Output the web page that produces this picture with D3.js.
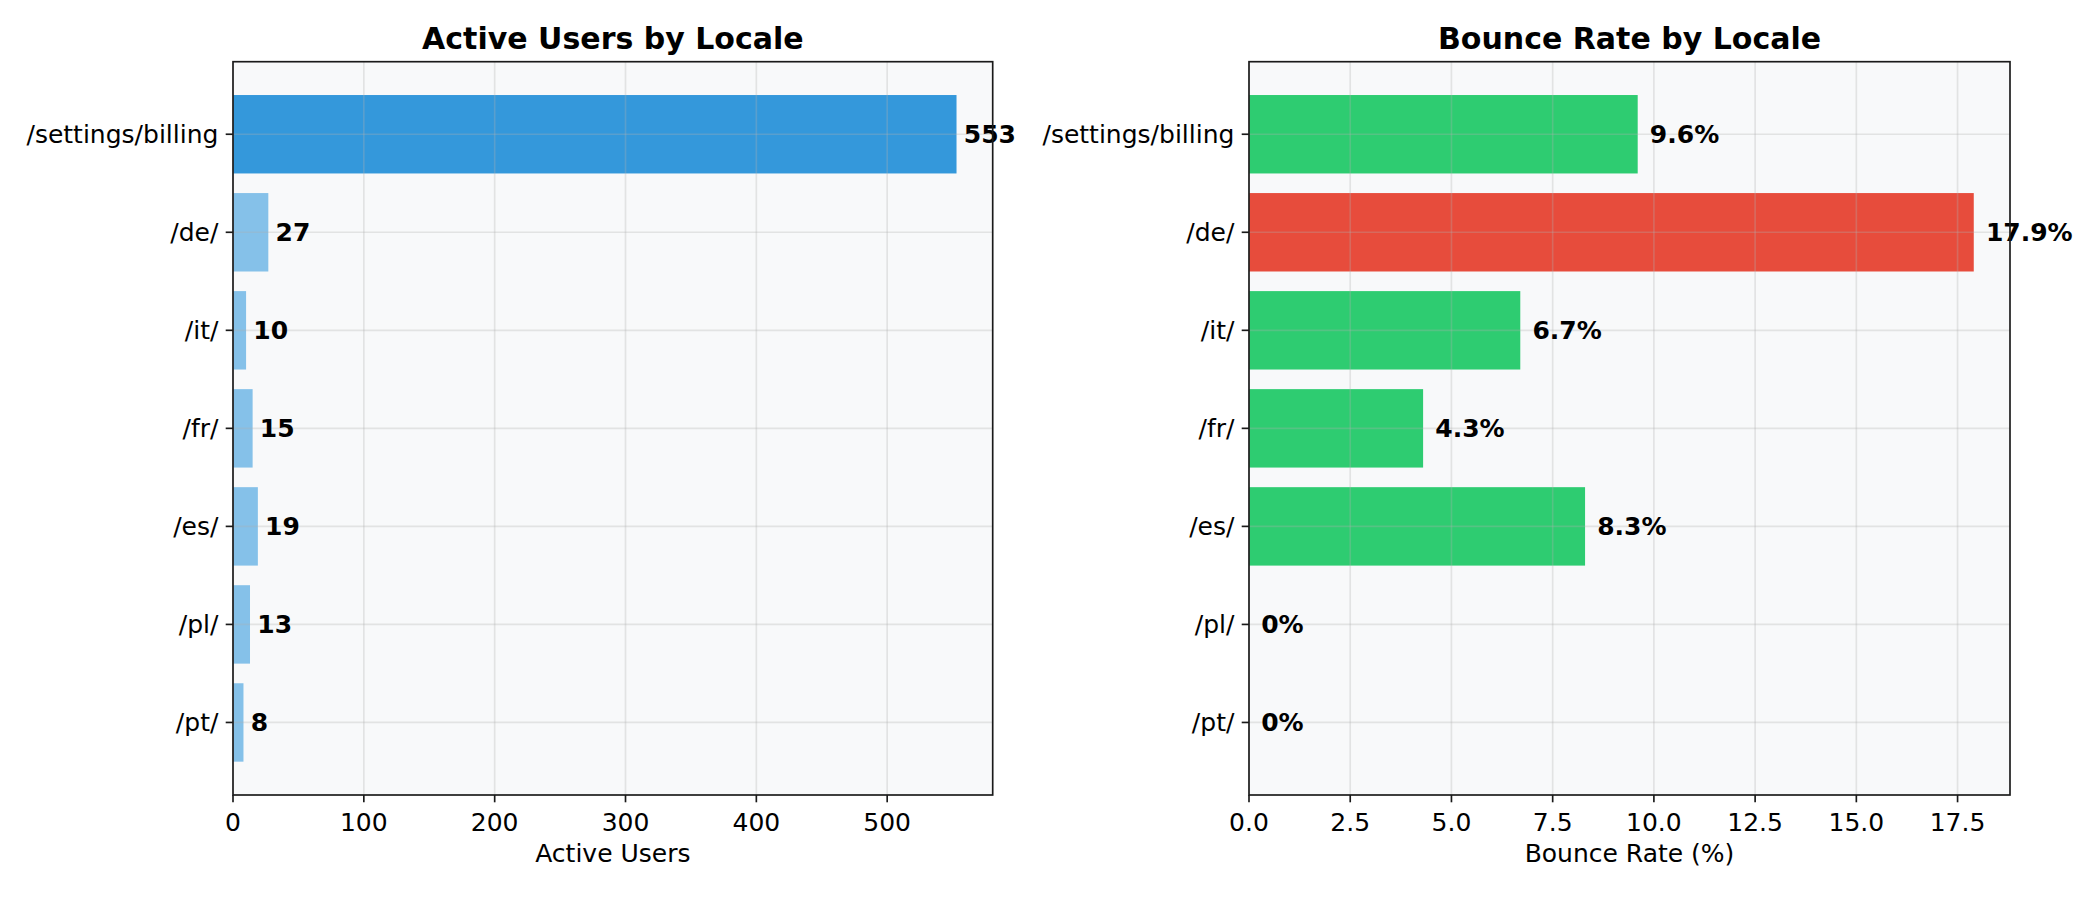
<!DOCTYPE html>
<html>
<head>
<meta charset="utf-8">
<script src="https://cdn.jsdelivr.net/npm/d3@7"></script>
<style>
  html, body { margin: 0; padding: 0; background: #ffffff; }
  svg { display: block; font-family: "DejaVu Sans", sans-serif; }
</style>
</head>
<body>
<svg id="chart" width="2100" height="900"></svg>
<script>
// ---- Data ----
const categories = ["/settings/billing", "/de/", "/it/", "/fr/", "/es/", "/pl/", "/pt/"];
const activeUsers = [553, 27, 10, 15, 19, 13, 8];
const bounceRate = [9.6, 17.9, 6.7, 4.3, 8.3, 0, 0];
const usersTicks = [0, 100, 200, 300, 400, 500];
const bounceTicks = [0, 2.5, 5, 7.5, 10, 12.5, 15, 17.5];
const bounceTickLabels = ["0.0", "2.5", "5.0", "7.5", "10.0", "12.5", "15.0", "17.5"];

// ---- Layout ----
(function () {
const svg = d3.select("#chart");
const plotTop = 61.7, plotBottom = 795;
const panels = [
  {
    left: 233, right: 992.7,
    title: "Active Users by Locale", xlabel: "Active Users",
    values: activeUsers, ticks: usersTicks, tickLabels: usersTicks.map(String),
    color: (v, i) => i === 0 ? "#3498db" : "#85c1e9",
    fmt: v => String(v),
    offset: d3.max(activeUsers) * 0.01
  },
  {
    left: 1249, right: 2010,
    title: "Bounce Rate by Locale", xlabel: "Bounce Rate (%)",
    values: bounceRate, ticks: bounceTicks, tickLabels: bounceTickLabels,
    color: (v, i) => v > 15 ? "#e74c3c" : "#2ecc71",
    fmt: v => v === 0 ? "0%" : v.toFixed(1) + "%",
    offset: 0.3
  }
];

const tickLen = 7.3, tickPad = 7.3, lw = 1.67;

panels.forEach(p => {
  const g = svg.append("g");
  const x = d3.scaleLinear().domain([0, d3.max(p.values) * 1.05]).range([p.left, p.right]);
  const y = d3.scaleBand().domain(categories).range([plotTop, plotBottom]).paddingInner(0.2).paddingOuter(0.34);

  // background
  g.append("rect").attr("x", p.left).attr("y", plotTop)
    .attr("width", p.right - p.left).attr("height", plotBottom - plotTop)
    .attr("fill", "#f8f9fa");

  // bars
  g.selectAll("rect.bar").data(p.values).enter().append("rect")
    .attr("class", "bar")
    .attr("x", x(0))
    .attr("y", (d, i) => y(categories[i]))
    .attr("width", d => x(d) - x(0))
    .attr("height", y.bandwidth())
    .attr("fill", (d, i) => p.color(d, i));

  // grid (above bars, like matplotlib)
  g.selectAll("line.vgrid").data(p.ticks).enter().append("line")
    .attr("x1", d => x(d)).attr("x2", d => x(d))
    .attr("y1", plotTop).attr("y2", plotBottom)
    .attr("stroke", "#b0b0b0").attr("stroke-opacity", 0.3).attr("stroke-width", lw);
  g.selectAll("line.hgrid").data(categories).enter().append("line")
    .attr("x1", p.left).attr("x2", p.right)
    .attr("y1", d => y(d) + y.bandwidth() / 2).attr("y2", d => y(d) + y.bandwidth() / 2)
    .attr("stroke", "#b0b0b0").attr("stroke-opacity", 0.3).attr("stroke-width", lw);

  // value labels
  g.selectAll("text.val").data(p.values).enter().append("text")
    .attr("x", d => x(d + p.offset))
    .attr("y", (d, i) => y(categories[i]) + y.bandwidth() / 2)
    .attr("dy", "0.36em")
    .attr("font-size", 25).attr("font-weight", "bold").attr("fill", "#000")
    .text(d => p.fmt(d));

  // spines
  g.append("rect").attr("x", p.left).attr("y", plotTop)
    .attr("width", p.right - p.left).attr("height", plotBottom - plotTop)
    .attr("fill", "none").attr("stroke", "#1a1a1a").attr("stroke-width", lw);

  // x axis ticks
  g.selectAll("line.xt").data(p.ticks).enter().append("line")
    .attr("x1", d => x(d)).attr("x2", d => x(d))
    .attr("y1", plotBottom).attr("y2", plotBottom + tickLen)
    .attr("stroke", "#1a1a1a").attr("stroke-width", lw);
  g.selectAll("text.xt").data(p.ticks).enter().append("text")
    .attr("x", d => x(d)).attr("y", 831)
    .attr("text-anchor", "middle").attr("font-size", 25).attr("fill", "#000")
    .text((d, i) => p.tickLabels[i]);

  // y axis ticks
  g.selectAll("line.yt").data(categories).enter().append("line")
    .attr("x1", p.left - tickLen).attr("x2", p.left)
    .attr("y1", d => y(d) + y.bandwidth() / 2).attr("y2", d => y(d) + y.bandwidth() / 2)
    .attr("stroke", "#1a1a1a").attr("stroke-width", lw);
  g.selectAll("text.yt").data(categories).enter().append("text")
    .attr("x", p.left - tickLen - tickPad)
    .attr("y", d => y(d) + y.bandwidth() / 2)
    .attr("dy", "0.36em")
    .attr("text-anchor", "end").attr("font-size", 25).attr("fill", "#000")
    .text(d => d);

  // axis label
  g.append("text").attr("x", (p.left + p.right) / 2).attr("y", 862)
    .attr("text-anchor", "middle").attr("font-size", 25).attr("fill", "#000")
    .text(p.xlabel);

  // title
  g.append("text").attr("x", (p.left + p.right) / 2).attr("y", plotTop - 12.5)
    .attr("text-anchor", "middle").attr("font-size", 30).attr("font-weight", "bold").attr("fill", "#000")
    .text(p.title);
});
})();
</script>
</body>
</html>
